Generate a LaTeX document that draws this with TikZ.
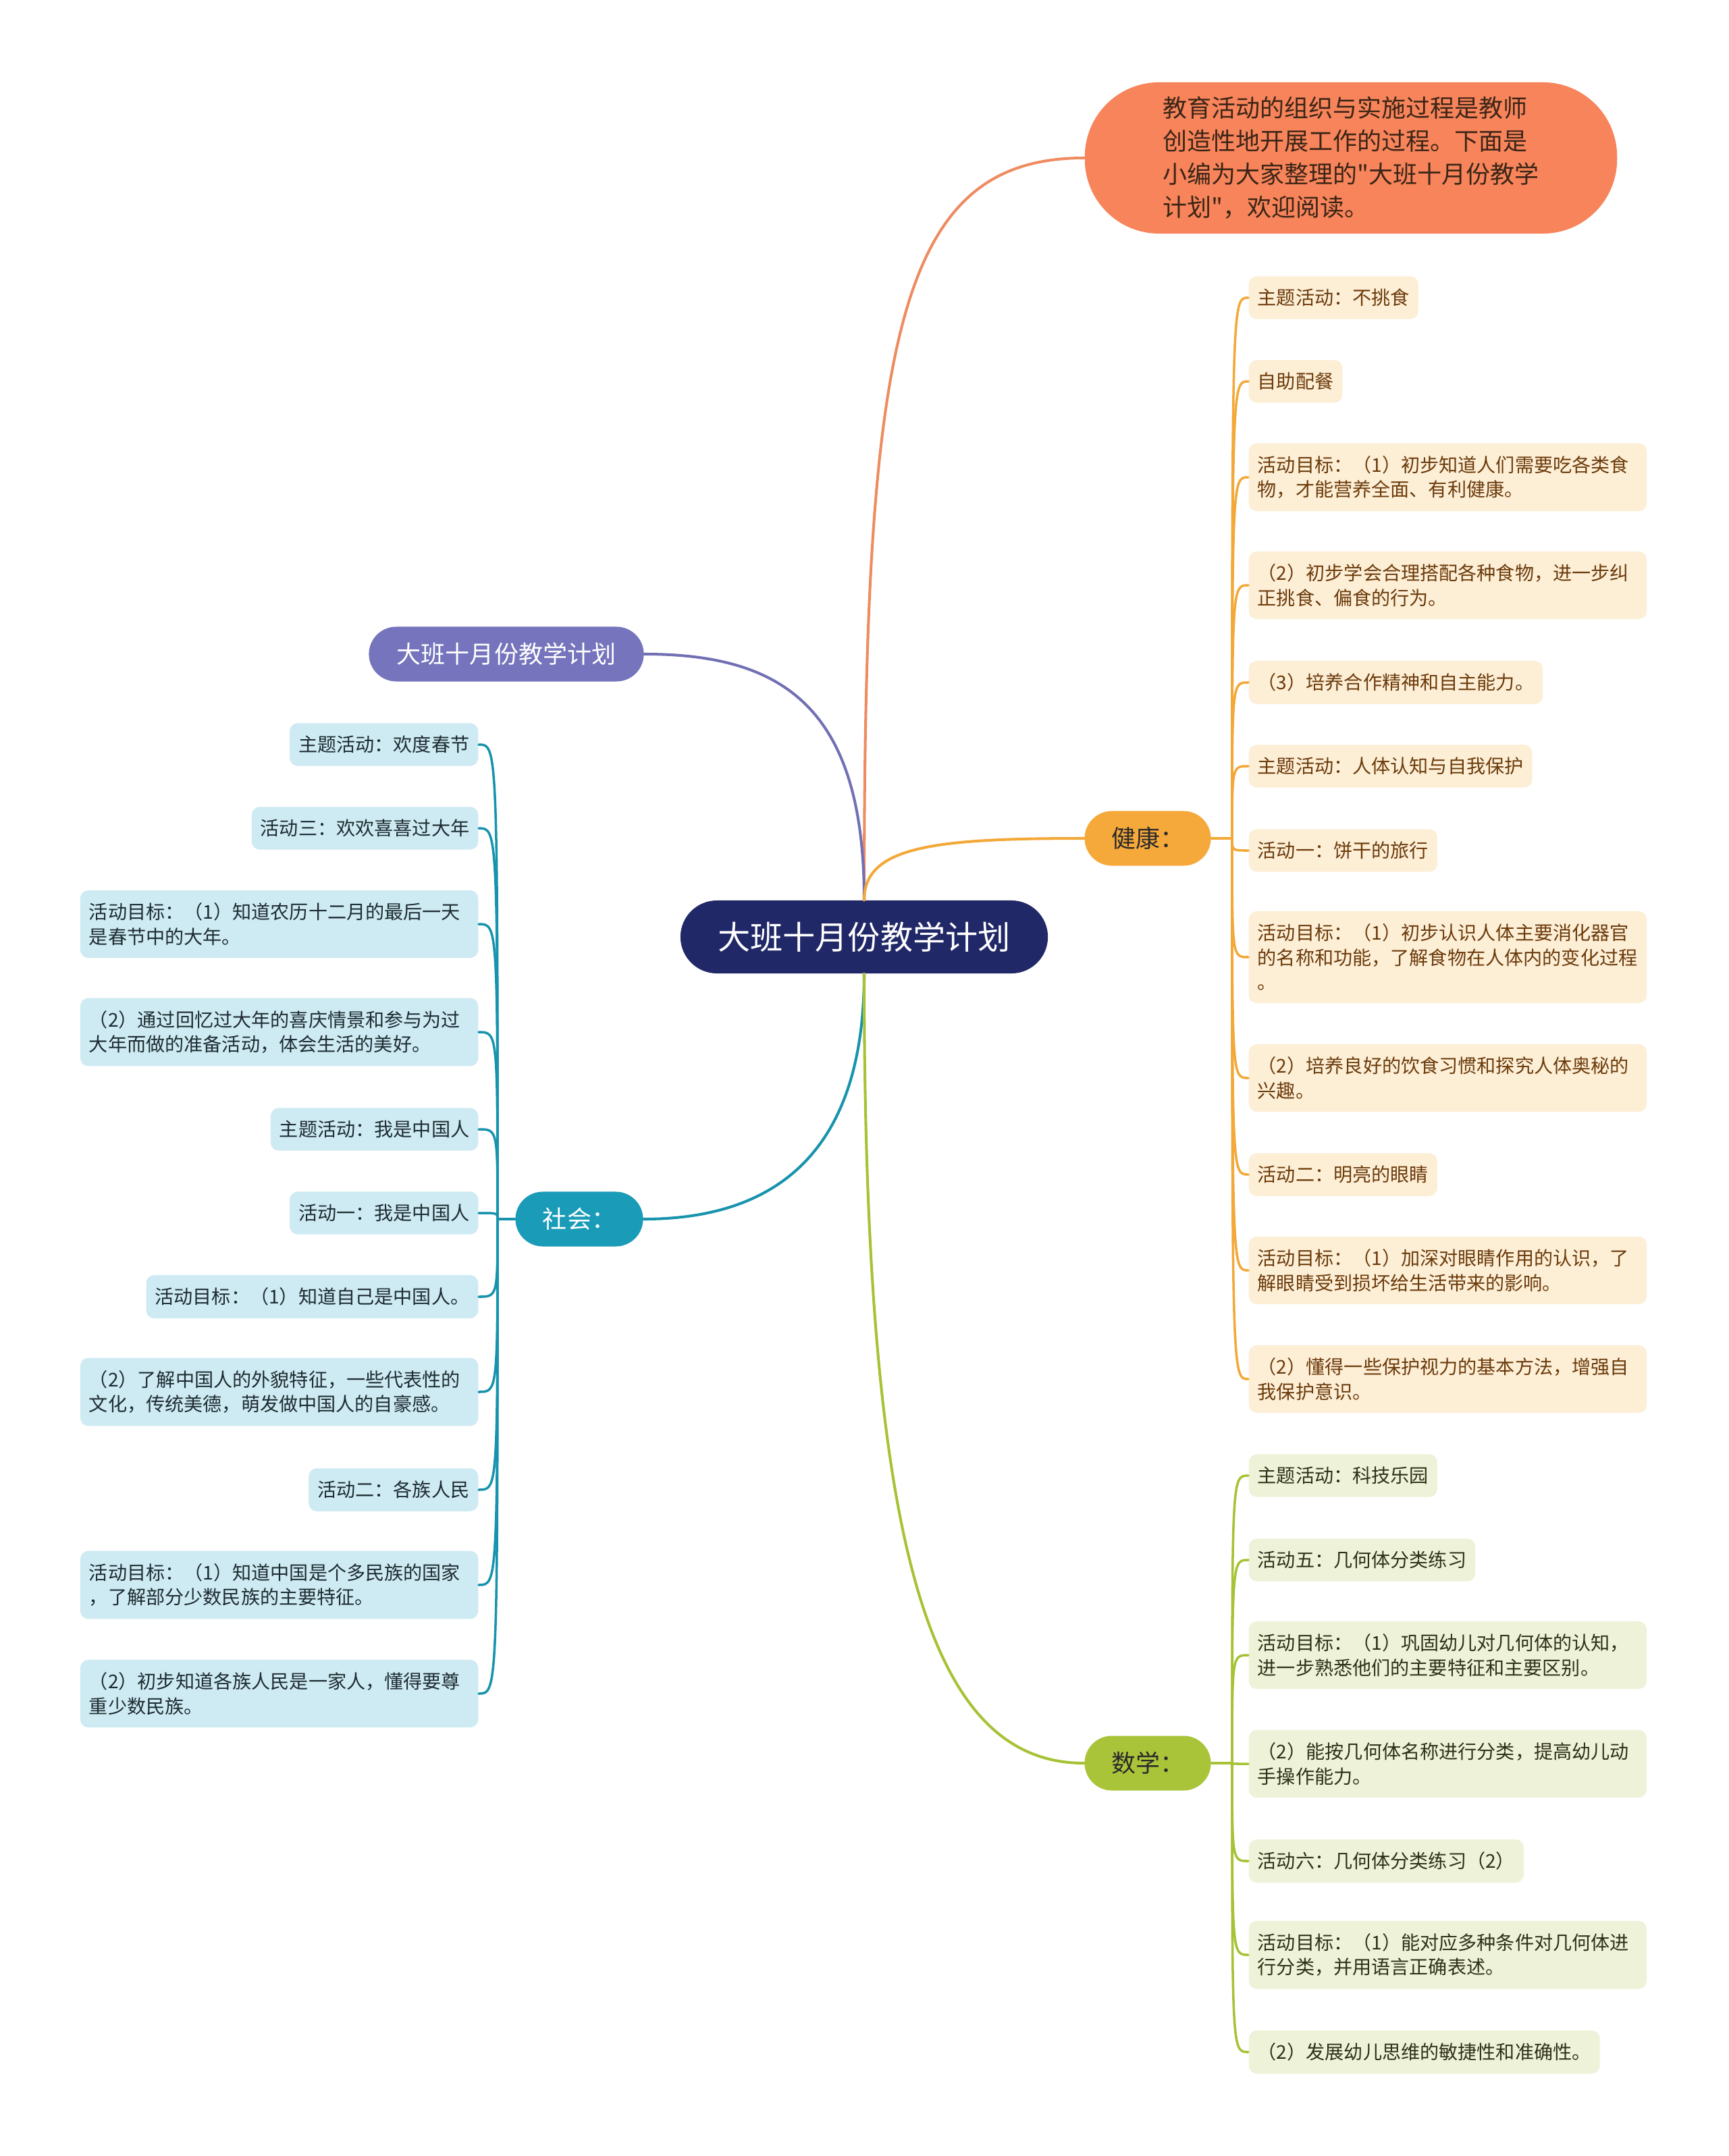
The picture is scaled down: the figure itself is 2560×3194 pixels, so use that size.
\documentclass[tikz,border=0pt]{standalone}
\usepackage{fontspec}
\usetikzlibrary{calc}
\newfontfamily\cjk{Noto Sans CJK SC}[Ligatures=TeXOff]
\definecolor{PlanNavy}{HTML}{212867}
\definecolor{PlanIntro}{HTML}{F7845A}
\definecolor{PlanIntroLine}{HTML}{EE8B60}
\definecolor{PlanIntroInk}{HTML}{3B2517}
\definecolor{PlanTitle}{HTML}{7574BC}
\definecolor{PlanTitleLine}{HTML}{7270B4}
\definecolor{TopicInk}{HTML}{2A2A2A}
\definecolor{HealthMain}{HTML}{F6A93B}
\definecolor{HealthLine}{HTML}{F3A838}
\definecolor{HealthPaper}{HTML}{FDEED6}
\definecolor{HealthInk}{HTML}{6B3B0B}
\definecolor{SocialMain}{HTML}{1A9BB8}
\definecolor{SocialLine}{HTML}{1893AE}
\definecolor{SocialPaper}{HTML}{CEEAF2}
\definecolor{SocialInk}{HTML}{1E2C33}
\definecolor{MathMain}{HTML}{AAC43A}
\definecolor{MathLine}{HTML}{A6C235}
\definecolor{MathPaper}{HTML}{EEF2D9}
\definecolor{MathInk}{HTML}{2E3116}
\tikzset{
    plan/diagram/.style={
        x=0.01cm, y=-0.01cm,
        line cap=round,
        line join=round,
        every node/.style={font=\cjk}
    },
    plan/root/.style={
        fill=PlanNavy, text=white, inner sep=0pt,
        minimum width=5.44cm, minimum height=1.08cm, rounded corners=0.54cm,
        font=\cjk\fontsize{13.7}{16}\selectfont
    },
    plan/intro/.style={
        fill=PlanIntro, text=PlanIntroInk, align=left, inner sep=0pt,
        minimum width=7.88cm, minimum height=2.24cm, rounded corners=1.1cm,
        font=\cjk\fontsize{10.24}{13.9}\selectfont
    },
    plan/topic/.style={
        inner sep=0pt, minimum height=0.81cm, rounded corners=0.405cm,
        font=\cjk\fontsize{10.24}{13}\selectfont
    },
    plan/leaf/.style={
        align=left, inner xsep=0.13cm, inner ysep=5.3pt, rounded corners=0.12cm,
        font=\cjk\fontsize{8}{10.4}\selectfont
    },
    plan/wide/.style={text width=5.63cm},
    plan/health/.style={plan/leaf, anchor=west, fill=HealthPaper, text=HealthInk},
    plan/social/.style={plan/leaf, anchor=east, fill=SocialPaper, text=SocialInk},
    plan/math/.style={plan/leaf, anchor=west, fill=MathPaper, text=MathInk},
    plan/link/.style={line width=1.15pt},
    plan/twig/.style={line width=1pt}
}
\begin{document}
\begin{tikzpicture}[plan/diagram]
    \fill[white] (0,0) rectangle (2560,3194);
    \node[plan/root] (root) at (1280,1388) {大班十月份教学计划};
    \node[plan/intro] (intro) at (2001,234)
        {教育活动的组织与实施过程是教师\\创造性地开展工作的过程。下面是\\小编为大家整理的"大班十月份教学\\计划"，欢迎阅读。};
    \node[plan/topic, fill=PlanTitle, text=white, minimum width=4.07cm] (title) at (750,969) {大班十月份教学计划};
    \node[plan/topic, fill=SocialMain, text=white, minimum width=1.89cm] (social) at (858,1806) {社会：};
    \node[plan/topic, fill=HealthMain, text=TopicInk, minimum width=1.87cm] (health) at (1700,1242) {健康：};
    \node[plan/topic, fill=MathMain, text=TopicInk, minimum width=1.87cm] (math) at (1700,2612) {数学：};
    \coordinate (health-j) at (1825,1242);
    \coordinate (math-j) at (1825,2612);
    \coordinate (social-j) at (737,1806);
    % health
    \node[plan/health] (h1) at (1849,441) {主题活动：不挑食};
    \node[plan/health] (h2) at (1849,565) {自助配餐};
    \node[plan/health, plan/wide] (h3) at (1849,707) {活动目标：（1）初步知道人们需要吃各类食\\物，才能营养全面、有利健康。};
    \node[plan/health, plan/wide] (h4) at (1849,867) {（2）初步学会合理搭配各种食物，进一步纠\\正挑食、偏食的行为。};
    \node[plan/health] (h5) at (1849,1011) {（3）培养合作精神和自主能力。};
    \node[plan/health] (h6) at (1849,1135) {主题活动：人体认知与自我保护};
    \node[plan/health] (h7) at (1849,1260) {活动一：饼干的旅行};
    \node[plan/health, plan/wide] (h8) at (1849,1418) {活动目标：（1）初步认识人体主要消化器官\\的名称和功能，了解食物在人体内的变化过程\\。};
    \node[plan/health, plan/wide] (h9) at (1849,1597) {（2）培养良好的饮食习惯和探究人体奥秘的\\兴趣。};
    \node[plan/health] (h10) at (1849,1740) {活动二：明亮的眼睛};
    \node[plan/health, plan/wide] (h11) at (1849,1882) {活动目标：（1）加深对眼睛作用的认识，了\\解眼睛受到损坏给生活带来的影响。};
    \node[plan/health, plan/wide] (h12) at (1849,2043) {（2）懂得一些保护视力的基本方法，增强自\\我保护意识。};
    % math
    \node[plan/math] (m1) at (1849,2186) {主题活动：科技乐园};
    \node[plan/math] (m2) at (1849,2311) {活动五：几何体分类练习};
    \node[plan/math, plan/wide] (m3) at (1849,2452) {活动目标：（1）巩固幼儿对几何体的认知，\\进一步熟悉他们的主要特征和主要区别。};
    \node[plan/math, plan/wide] (m4) at (1849,2613) {（2）能按几何体名称进行分类，提高幼儿动\\手操作能力。};
    \node[plan/math] (m5) at (1849,2757) {活动六：几何体分类练习（2）};
    \node[plan/math, plan/wide] (m6) at (1849,2896) {活动目标：（1）能对应多种条件对几何体进\\行分类，并用语言正确表述。};
    \node[plan/math] (m7) at (1849,3040) {（2）发展幼儿思维的敏捷性和准确性。};
    % social
    \node[plan/social] (s1) at (709,1103) {主题活动：欢度春节};
    \node[plan/social] (s2) at (709,1227) {活动三：欢欢喜喜过大年};
    \node[plan/social, plan/wide] (s3) at (709,1369) {活动目标：（1）知道农历十二月的最后一天\\是春节中的大年。};
    \node[plan/social, plan/wide] (s4) at (709,1529) {（2）通过回忆过大年的喜庆情景和参与为过\\大年而做的准备活动，体会生活的美好。};
    \node[plan/social] (s5) at (709,1673) {主题活动：我是中国人};
    \node[plan/social] (s6) at (709,1797) {活动一：我是中国人};
    \node[plan/social] (s7) at (709,1921) {活动目标：（1）知道自己是中国人。};
    \node[plan/social, plan/wide] (s8) at (709,2062) {（2）了解中国人的外貌特征，一些代表性的\\文化，传统美德，萌发做中国人的自豪感。};
    \node[plan/social] (s9) at (709,2207) {活动二：各族人民};
    \node[plan/social, plan/wide] (s10) at (709,2348) {活动目标：（1）知道中国是个多民族的国家\\，了解部分少数民族的主要特征。};
    \node[plan/social, plan/wide] (s11) at (709,2509) {（2）初步知道各族人民是一家人，懂得要尊\\重少数民族。};
    % main branches leave the root vertically and meet each topic level
    \draw[plan/link, PlanIntroLine] (root.north) .. controls +(0,-834) and +(-277,0) .. (intro.west);
    \draw[plan/link, PlanTitleLine] (root.north) .. controls +(0,-290) and +(200,0) .. (title.east);
    \draw[plan/link, HealthLine] (root.north) .. controls +(0,-80) and +(-220,0) .. (health.west);
    \draw[plan/link, SocialLine] (root.south) .. controls +(0,260) and +(200,0) .. (social.east);
    \draw[plan/link, MathLine] (root.south) .. controls +(0,850) and +(-230,0) .. (math.west);
    \draw[plan/twig, HealthLine] (health.east) -- (health-j);
    \draw[plan/twig, MathLine] (math.east) -- (math-j);
    \draw[plan/twig, SocialLine] (social.west) -- (social-j);
    \foreach \n in {1,...,12}
        \draw[plan/twig, HealthLine] (health-j) .. controls (health-j |- h\n.west) .. (h\n.west);
    \foreach \n in {1,...,7}
        \draw[plan/twig, MathLine] (math-j) .. controls (math-j |- m\n.west) .. (m\n.west);
    \foreach \n in {1,...,11}
        \draw[plan/twig, SocialLine] (social-j) .. controls (social-j |- s\n.east) .. (s\n.east);
\end{tikzpicture}
\end{document}
